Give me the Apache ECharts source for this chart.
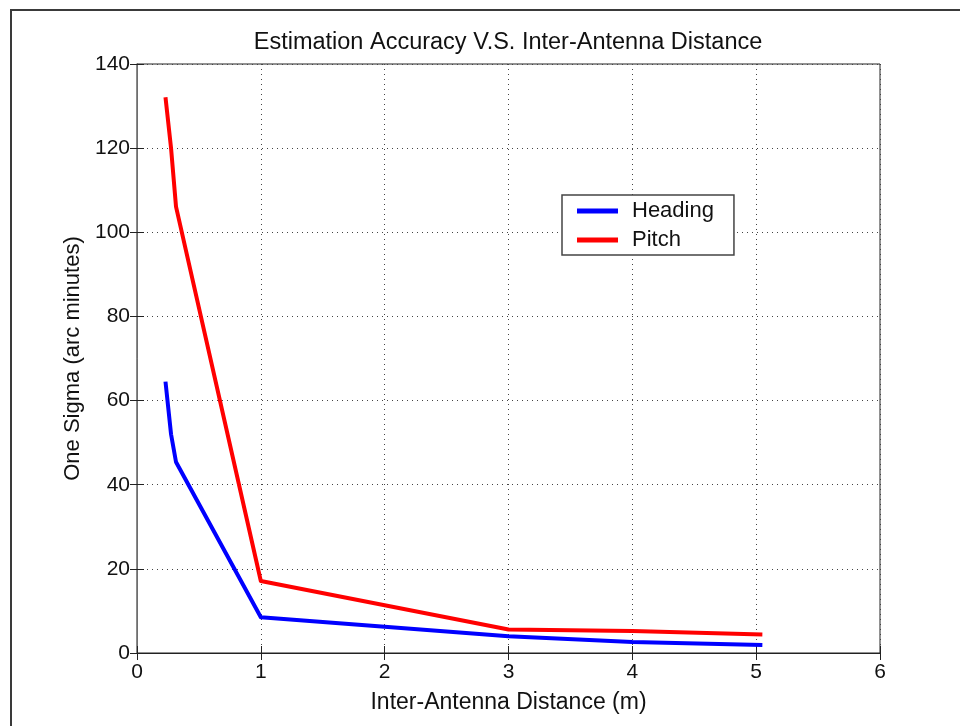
<!DOCTYPE html>
<html>
<head>
<meta charset="utf-8">
<title>Estimation Accuracy V.S. Inter-Antenna Distance</title>
<script src="https://cdn.jsdelivr.net/npm/echarts@6/dist/echarts.min.js"></script>
<style>
  html, body { margin: 0; padding: 0; background: #fff; }
  #chart { width: 960px; height: 726px; }
</style>
</head>
<body>
<div id="chart"></div>
<script>
// Inter-antenna baseline (m)
const distance = [0.23, 0.275, 0.315, 1, 3, 4, 5.05];
// One-sigma error, arc minutes
const heading = [64.5, 52.0, 45.4, 8.5, 4.0, 2.6, 1.9];
const pitch = [132.1, 120.0, 106.1, 17.1, 5.6, 5.2, 4.4];

const xTicks = [0, 1, 2, 3, 4, 5, 6];
const yTicks = [0, 20, 40, 60, 80, 100, 120, 140];

const FONT = '"Liberation Sans", Arial, Helvetica, sans-serif';

function pairs(xs, ys) {
  return xs.map((x, i) => [x, ys[i]]);
}

const gridLine = { show: true, lineStyle: { color: '#444', type: [1, 4], width: 1 } };

const chart = echarts.init(document.getElementById('chart'), null, { renderer: 'canvas' });

chart.setOption({
  animation: false,
  backgroundColor: '#fff',
  textStyle: { fontFamily: FONT },
  title: {
    text: 'Estimation Accuracy V.S. Inter-Antenna Distance',
    left: 503,
    textAlign: 'center',
    top: 26,
    textStyle: { fontFamily: FONT, fontSize: 23.5, fontWeight: 'normal', color: '#111' }
  },
  graphic: [{
    type: 'rect',
    shape: { x: 11, y: 10, width: 1000, height: 1000 },
    style: { fill: 'none', stroke: '#3a3a3a', lineWidth: 2 },
    silent: true
  }],
  grid: {
    left: 137, right: 80, top: 64, bottom: 73,
    show: true, borderColor: '#222', borderWidth: 1, backgroundColor: '#fff'
  },
  legend: {
    orient: 'vertical',
    left: 562,
    top: 195,
    padding: [5, 20, 4, 15],
    itemGap: 7,
    itemWidth: 41,
    itemHeight: 5,
    icon: 'rect',
    backgroundColor: '#fff',
    borderColor: '#444',
    borderWidth: 1.5,
    textStyle: { fontFamily: FONT, fontSize: 22, color: '#111', padding: [0, 0, 0, 9] },
    data: ['Heading', 'Pitch']
  },
  xAxis: [{
    type: 'value',
    min: xTicks[0], max: xTicks[xTicks.length - 1], interval: 1,
    name: 'Inter-Antenna Distance (m)',
    nameLocation: 'middle',
    nameGap: 38,
    nameTextStyle: { fontFamily: FONT, fontSize: 23, color: '#111' },
    axisLine: { show: true, lineStyle: { color: '#222', width: 1 } },
    axisTick: { show: true, inside: true, length: 7, lineStyle: { color: '#222' } },
    axisLabel: { margin: 9, fontFamily: FONT, fontSize: 21, color: '#111' },
    splitLine: gridLine
  }, {
    type: 'value', position: 'top',
    min: xTicks[0], max: xTicks[xTicks.length - 1], interval: 1,
    axisLine: { show: true, lineStyle: { color: '#222', width: 1 } },
    axisTick: { show: true, inside: true, length: 7, lineStyle: { color: '#222' } },
    axisLabel: { show: false },
    splitLine: { show: false }
  }],
  yAxis: [{
    type: 'value',
    min: yTicks[0], max: yTicks[yTicks.length - 1], interval: 20,
    name: 'One Sigma (arc minutes)',
    nameLocation: 'middle',
    nameGap: 52,
    nameTextStyle: { fontFamily: FONT, fontSize: 22, color: '#111' },
    axisLine: { show: true, lineStyle: { color: '#222', width: 1 } },
    axisTick: { show: true, inside: true, length: 7, lineStyle: { color: '#222' } },
    axisLabel: { margin: 7, fontFamily: FONT, fontSize: 21, color: '#111' },
    splitLine: gridLine
  }, {
    type: 'value', position: 'right',
    min: yTicks[0], max: yTicks[yTicks.length - 1], interval: 20,
    axisLine: { show: true, lineStyle: { color: '#888', width: 1.5 } },
    axisTick: { show: true, inside: true, length: 7, lineStyle: { color: '#222' } },
    axisLabel: { show: false },
    splitLine: { show: false }
  }],
  series: [{
    name: 'Heading',
    type: 'line',
    data: pairs(distance, heading),
    symbol: 'none',
    color: '#0000ff',
    lineStyle: { color: '#0000ff', width: 4, join: 'round' },
    z: 3
  }, {
    name: 'Pitch',
    type: 'line',
    data: pairs(distance, pitch),
    symbol: 'none',
    color: '#ff0000',
    lineStyle: { color: '#ff0000', width: 4, join: 'round' },
    z: 3
  }]
});
</script>
</body>
</html>
